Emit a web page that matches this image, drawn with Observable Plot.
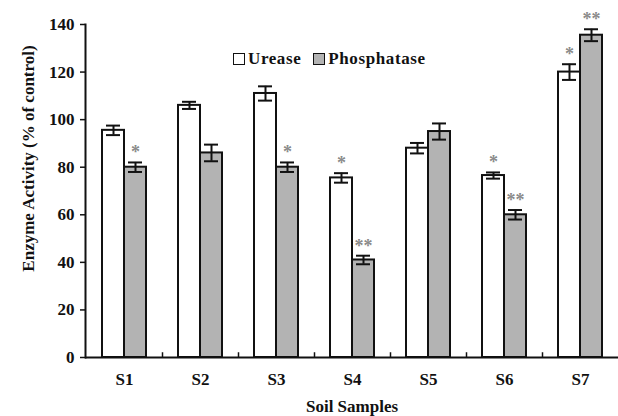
<!DOCTYPE html>
<html>
<head>
<meta charset="utf-8">
<script src="https://cdn.jsdelivr.net/npm/d3@7"></script>
<script src="https://cdn.jsdelivr.net/npm/@observablehq/plot@0.6"></script>
<style>
  html, body { margin: 0; padding: 0; background: #fff; }
  #wrap { position: relative; width: 618px; height: 416px; font-family: "Liberation Serif", serif; }
  #legend { position: absolute; left: 233px; top: 48px; height: 22px; font: bold 17px "Liberation Serif", serif; letter-spacing: 0.6px; display: flex; align-items: center; white-space: nowrap; color: #111; }
  #legend .sw { display: inline-block; width: 10px; height: 10px; border: 1.8px solid #111; margin-right: 3px; }
  #legend .item { display: flex; align-items: center; margin-right: 12px; }
</style>
</head>
<body>
<div id="wrap">
  <div id="chart"></div>
  <div id="legend"></div>
</div>
<script>
const samples = ["S1", "S2", "S3", "S4", "S5", "S6", "S7"];
const urease = [95.5, 106, 111, 75.5, 88, 76.5, 120];
const ureaseErr = [2, 1.5, 3, 2, 2.2, 1.3, 3.3];
const ureaseSig = ["", "", "", "*", "", "*", "*"];
const phosphatase = [80, 86, 80, 41, 95, 60, 135.5];
const phosphataseErr = [2, 3.5, 2, 1.8, 3.4, 2, 2.5];
const phosphataseSig = ["*", "", "*", "**", "", "**", "**"];
const yTicks = [0, 20, 40, 60, 80, 100, 120, 140];
const seriesNames = ["Urease", "Phosphatase"];
const seriesFill = ["#ffffff", "#b3b3b3"];
const yTitle = "Enzyme Activity (% of control)";
const xTitle = "Soil Samples";

const ureaseData = samples.map((s, i) => ({sample: s, value: urease[i], err: ureaseErr[i], sig: ureaseSig[i]}));
const phosData = samples.map((s, i) => ({sample: s, value: phosphatase[i], err: phosphataseErr[i], sig: phosphataseSig[i]}));

const font = "Liberation Serif, serif";

const chart = Plot.plot({
  width: 618,
  height: 416,
  marginLeft: 85,
  marginRight: 0,
  marginTop: 24,
  marginBottom: 59,
  style: {fontFamily: font, fontWeight: "bold", fontSize: "17px", color: "#111", background: "#fff"},
  x: {domain: samples, padding: 0},
  y: {domain: [0, 140]},
  marks: [
    Plot.axisY({ticks: yTicks, tickSize: 5, tickPadding: 6, strokeWidth: 1.5, fontSize: 17, label: null}),
    Plot.text([yTitle], {frameAnchor: "top-left", text: d => d, rotate: -90, dx: -64, dy: 134, textAnchor: "middle", fontSize: 17, fontWeight: "bold", fill: "#111"}),
    Plot.axisX({tickSize: 0, tickPadding: 15, fontSize: 17, label: xTitle, labelAnchor: "center", labelArrow: "none", labelOffset: 54}),
    Plot.barY(ureaseData, {x: "sample", y: "value", fill: seriesFill[0], stroke: "#111", strokeWidth: 2, insetLeft: 16, insetRight: 38}),
    Plot.barY(phosData, {x: "sample", y: "value", fill: seriesFill[1], stroke: "#111", strokeWidth: 2, insetLeft: 38, insetRight: 16}),
    Plot.ruleX(ureaseData, {x: "sample", y1: d => d.value - d.err, y2: d => d.value + d.err, dx: -11, stroke: "#111", strokeWidth: 2}),
    Plot.ruleX(phosData, {x: "sample", y1: d => d.value - d.err, y2: d => d.value + d.err, dx: 11, stroke: "#111", strokeWidth: 2}),
    Plot.tickY(ureaseData, {x: "sample", y: d => d.value + d.err, insetLeft: 20, insetRight: 42, stroke: "#111", strokeWidth: 2}),
    Plot.tickY(ureaseData, {x: "sample", y: d => d.value - d.err, insetLeft: 20, insetRight: 42, stroke: "#111", strokeWidth: 2}),
    Plot.tickY(phosData, {x: "sample", y: d => d.value + d.err, insetLeft: 42, insetRight: 20, stroke: "#111", strokeWidth: 2}),
    Plot.tickY(phosData, {x: "sample", y: d => d.value - d.err, insetLeft: 42, insetRight: 20, stroke: "#111", strokeWidth: 2}),
    Plot.text(ureaseData, {x: "sample", y: d => d.value + d.err, text: "sig", dx: -11, dy: -4, fill: "#8a8a8a", fontSize: 18, fontWeight: "bold", lineAnchor: "bottom"}),
    Plot.text(phosData, {x: "sample", y: d => d.value + d.err, text: "sig", dx: 11, dy: -4, fill: "#8a8a8a", fontSize: 18, fontWeight: "bold", lineAnchor: "bottom"}),
    Plot.ruleX(samples.slice(1), {x: d => d, y1: 0, y2: 2, dx: -38, stroke: "#111", strokeWidth: 1.5}),
    Plot.ruleY([0], {stroke: "#111", strokeWidth: 2}),
    Plot.frame({anchor: "left", stroke: "#111", strokeWidth: 2})
  ]
});
document.getElementById("chart").appendChild(chart);

const legend = document.getElementById("legend");
seriesNames.forEach((name, i) => {
  const item = document.createElement("span");
  item.className = "item";
  const sw = document.createElement("span");
  sw.className = "sw";
  sw.style.background = seriesFill[i];
  item.appendChild(sw);
  item.appendChild(document.createTextNode(name));
  legend.appendChild(item);
});
</script>
</body>
</html>
